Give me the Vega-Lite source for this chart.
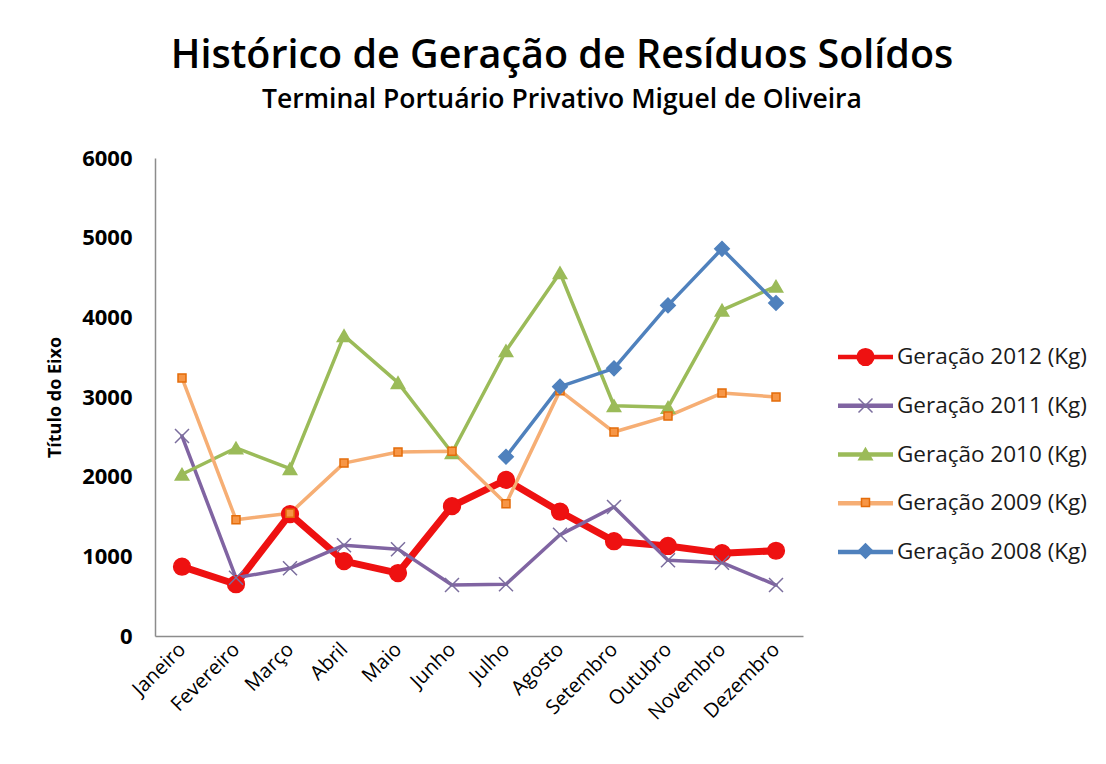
{
  "$schema": "https://vega.github.io/schema/vega-lite/v6.json",
  "autosize": "none",
  "width": 648,
  "height": 478,
  "padding": {"left": 155, "top": 158, "right": 303, "bottom": 128},
  "background": "white",
  "title": {
    "text": "Histórico de Geração de Resíduos Solídos",
    "subtitle": "Terminal Portuário Privativo Miguel de Oliveira",
    "anchor": "middle",
    "frame": "group",
    "dx": 83,
    "offset": 33,
    "font": "Open Sans",
    "fontSize": 39.5,
    "fontWeight": 600,
    "color": "#000000",
    "subtitleFont": "Open Sans",
    "subtitleFontSize": 26.5,
    "subtitleFontWeight": 600,
    "subtitleColor": "#000000",
    "subtitlePadding": 10
  },
  "data": {
    "values": [
      {"m": "Janeiro", "s": "Geração 2012 (Kg)", "v": 870},
      {"m": "Fevereiro", "s": "Geração 2012 (Kg)", "v": 650},
      {"m": "Março", "s": "Geração 2012 (Kg)", "v": 1530},
      {"m": "Abril", "s": "Geração 2012 (Kg)", "v": 940},
      {"m": "Maio", "s": "Geração 2012 (Kg)", "v": 790},
      {"m": "Junho", "s": "Geração 2012 (Kg)", "v": 1630},
      {"m": "Julho", "s": "Geração 2012 (Kg)", "v": 1960},
      {"m": "Agosto", "s": "Geração 2012 (Kg)", "v": 1560},
      {"m": "Setembro", "s": "Geração 2012 (Kg)", "v": 1190},
      {"m": "Outubro", "s": "Geração 2012 (Kg)", "v": 1130},
      {"m": "Novembro", "s": "Geração 2012 (Kg)", "v": 1040},
      {"m": "Dezembro", "s": "Geração 2012 (Kg)", "v": 1070},
      {"m": "Janeiro", "s": "Geração 2011 (Kg)", "v": 2510},
      {"m": "Fevereiro", "s": "Geração 2011 (Kg)", "v": 730},
      {"m": "Março", "s": "Geração 2011 (Kg)", "v": 850},
      {"m": "Abril", "s": "Geração 2011 (Kg)", "v": 1140},
      {"m": "Maio", "s": "Geração 2011 (Kg)", "v": 1090},
      {"m": "Junho", "s": "Geração 2011 (Kg)", "v": 640},
      {"m": "Julho", "s": "Geração 2011 (Kg)", "v": 650},
      {"m": "Agosto", "s": "Geração 2011 (Kg)", "v": 1270},
      {"m": "Setembro", "s": "Geração 2011 (Kg)", "v": 1620},
      {"m": "Outubro", "s": "Geração 2011 (Kg)", "v": 950},
      {"m": "Novembro", "s": "Geração 2011 (Kg)", "v": 920},
      {"m": "Dezembro", "s": "Geração 2011 (Kg)", "v": 640},
      {"m": "Janeiro", "s": "Geração 2010 (Kg)", "v": 2030},
      {"m": "Fevereiro", "s": "Geração 2010 (Kg)", "v": 2360},
      {"m": "Março", "s": "Geração 2010 (Kg)", "v": 2100},
      {"m": "Abril", "s": "Geração 2010 (Kg)", "v": 3770},
      {"m": "Maio", "s": "Geração 2010 (Kg)", "v": 3180},
      {"m": "Junho", "s": "Geração 2010 (Kg)", "v": 2300},
      {"m": "Julho", "s": "Geração 2010 (Kg)", "v": 3580},
      {"m": "Agosto", "s": "Geração 2010 (Kg)", "v": 4560},
      {"m": "Setembro", "s": "Geração 2010 (Kg)", "v": 2890},
      {"m": "Outubro", "s": "Geração 2010 (Kg)", "v": 2870},
      {"m": "Novembro", "s": "Geração 2010 (Kg)", "v": 4090},
      {"m": "Dezembro", "s": "Geração 2010 (Kg)", "v": 4390},
      {"m": "Janeiro", "s": "Geração 2009 (Kg)", "v": 3240},
      {"m": "Fevereiro", "s": "Geração 2009 (Kg)", "v": 1460},
      {"m": "Março", "s": "Geração 2009 (Kg)", "v": 1540},
      {"m": "Abril", "s": "Geração 2009 (Kg)", "v": 2170},
      {"m": "Maio", "s": "Geração 2009 (Kg)", "v": 2310},
      {"m": "Junho", "s": "Geração 2009 (Kg)", "v": 2320},
      {"m": "Julho", "s": "Geração 2009 (Kg)", "v": 1660},
      {"m": "Agosto", "s": "Geração 2009 (Kg)", "v": 3080},
      {"m": "Setembro", "s": "Geração 2009 (Kg)", "v": 2560},
      {"m": "Outubro", "s": "Geração 2009 (Kg)", "v": 2760},
      {"m": "Novembro", "s": "Geração 2009 (Kg)", "v": 3050},
      {"m": "Dezembro", "s": "Geração 2009 (Kg)", "v": 3000},
      {"m": "Julho", "s": "Geração 2008 (Kg)", "v": 2250},
      {"m": "Agosto", "s": "Geração 2008 (Kg)", "v": 3130},
      {"m": "Setembro", "s": "Geração 2008 (Kg)", "v": 3360},
      {"m": "Outubro", "s": "Geração 2008 (Kg)", "v": 4150},
      {"m": "Novembro", "s": "Geração 2008 (Kg)", "v": 4860},
      {"m": "Dezembro", "s": "Geração 2008 (Kg)", "v": 4180}
    ]
  },
  "encoding": {
    "x": {
      "field": "m",
      "type": "nominal",
      "sort": ["Janeiro", "Fevereiro", "Março", "Abril", "Maio", "Junho", "Julho", "Agosto", "Setembro", "Outubro", "Novembro", "Dezembro"],
      "scale": {"type": "point", "padding": 0.5},
      "axis": {
        "title": null,
        "labelAngle": -45,
        "labelAlign": "right",
        "labelBaseline": "middle",
        "labelPadding": 10,
        "labelFont": "Open Sans",
        "labelFontSize": 20,
        "labelColor": "#000000",
        "labelLimit": 300,
        "ticks": false,
        "domainColor": "#8c8c8c",
        "domainWidth": 1.5,
        "grid": false
      }
    },
    "y": {
      "field": "v",
      "type": "quantitative",
      "scale": {"domain": [0, 6000], "nice": false},
      "axis": {
        "title": "Título do Eixo",
        "titleFont": "Open Sans",
        "titleFontSize": 18,
        "titleFontWeight": "bold",
        "titleColor": "#000000",
        "titleAngle": -90,
        "titleX": -100,
        "titleY": 239,
        "titleAlign": "center",
        "titleBaseline": "middle",
        "values": [0, 1000, 2000, 3000, 4000, 5000, 6000],
        "format": "d",
        "labelFont": "Open Sans",
        "labelFontSize": 22,
        "labelFontWeight": "bold",
        "labelColor": "#000000",
        "labelPadding": 23,
        "ticks": false,
        "grid": false,
        "domainColor": "#8c8c8c",
        "domainWidth": 1.5
      }
    }
  },
  "layer": [
    {
      "mark": {"type": "line", "strokeJoin": "round", "strokeCap": "round"},
      "encoding": {
        "color": {
          "field": "s",
          "type": "nominal",
          "scale": {
            "domain": ["Geração 2012 (Kg)", "Geração 2011 (Kg)", "Geração 2010 (Kg)", "Geração 2009 (Kg)", "Geração 2008 (Kg)"],
            "range": ["#EE1111", "#8064A2", "#9BBB59", "#F6AE74", "#4F81BD"]
          },
          "legend": {
            "title": null,
            "orient": "none",
            "legendX": 680.5,
            "legendY": 169,
            "symbolType": "stroke",
            "symbolSize": 3025,
            "symbolStrokeWidth": 4.5,
            "symbolOpacity": 1,
            "labelFont": "Open Sans",
            "labelFontSize": 22.5,
            "labelColor": "#1a1a1a",
            "labelOffset": 1.5,
            "labelLimit": 400,
            "rowPadding": 6.75,
            "padding": 0
          }
        },
        "strokeWidth": {
          "field": "s",
          "type": "nominal",
          "scale": {
            "type": "ordinal",
            "domain": ["Geração 2008 (Kg)", "Geração 2009 (Kg)", "Geração 2010 (Kg)", "Geração 2011 (Kg)", "Geração 2012 (Kg)"],
            "range": [3.5, 3.5, 3.5, 3.5, 7]
          },
          "legend": null
        }
      }
    },
    {
      "mark": {"type": "point", "filled": true, "opacity": 1, "strokeWidth": 1.5},
      "encoding": {
        "fill": {
          "field": "s",
          "type": "nominal",
          "sort": "descending",
          "scale": {"range": ["#EE1111", "#8064A2", "#9BBB59", "#F79646", "#4F81BD"]},
          "legend": {
            "title": null,
            "orient": "none",
            "legendX": 699.25,
            "legendY": 187.75,
            "symbolOpacity": 1,
            "labelFont": "Open Sans",
            "labelFontSize": 22.5,
            "labelOpacity": 0,
            "labelExpr": "' '",
            "labelLimit": 400,
            "rowPadding": 25.5,
            "padding": 0
          }
        },
        "shape": {
          "field": "s",
          "type": "nominal",
          "sort": "descending",
          "scale": {"range": ["circle", "M-1,-1L1,1M-1,1L1,-1", "triangle-up", "square", "diamond"]},
          "legend": {"title": null, "orient": "none", "legendX": 699.25, "legendY": 187.75}
        },
        "size": {
          "field": "s",
          "type": "nominal",
          "sort": "descending",
          "scale": {"type": "ordinal", "range": [280, 196, 180, 64, 210]},
          "legend": {"title": null, "orient": "none", "legendX": 699.25, "legendY": 187.75}
        },
        "stroke": {
          "field": "s",
          "type": "nominal",
          "sort": "descending",
          "scale": {"range": ["#EE1111", "#7B6E9E", "#9BBB59", "#E46C0A", "#4F81BD"]},
          "legend": {"title": null, "orient": "none", "legendX": 699.25, "legendY": 187.75}
        }
      }
    }
  ],
  "config": {
    "view": {"stroke": null},
    "legend": {"padding": 0}
  }
}
